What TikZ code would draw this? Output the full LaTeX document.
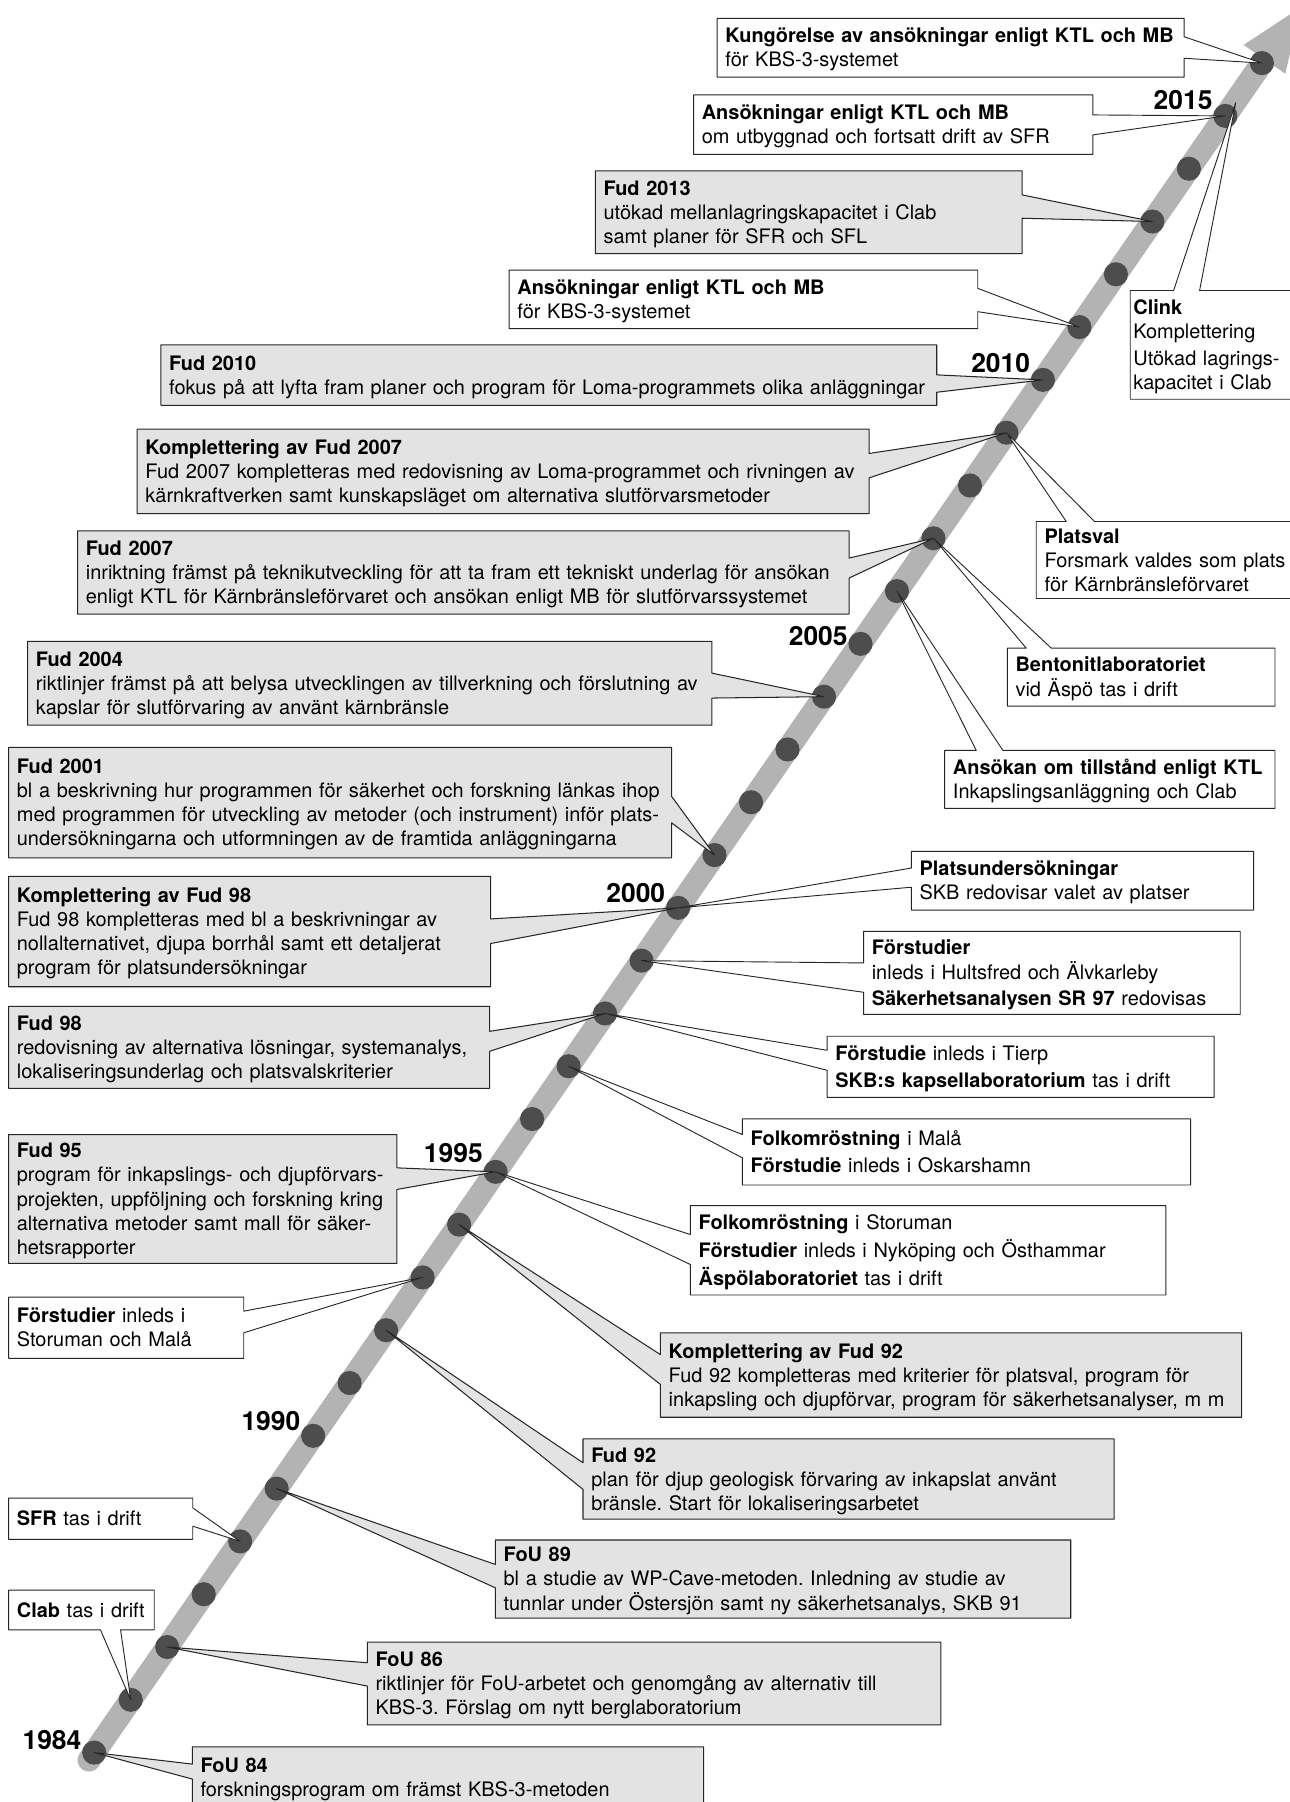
\documentclass[tikz,border=0pt]{standalone}
\usepackage{fontspec}
\setmainfont{TeX Gyre Heros}
\usetikzlibrary{calc,arrows.meta}

\definecolor{bandgray}{HTML}{B3B3B3}
\definecolor{dotgray}{HTML}{4D4D4D}
\definecolor{proggray}{HTML}{E3E3E3}

\pgfdeclarelayer{bandlayer}
\pgfdeclarelayer{shapelayer}
\pgfsetlayers{bandlayer,shapelayer,main}

\newcommand\boxfont{\fontsize{17.35}{21}\selectfont\frenchspacing}
\newcommand\tx[1]{\raisebox{-2pt}[\height][\depth]{\begin{tabular}{@{}l@{}}#1\end{tabular}}}

% callout outlines: box node, style, first offset, second offset, target
\newcommand\calE[5]{\draw[#2] (#1.north west) -- (#1.north east) -- ($(#1.north east)+(0,#3)$) -- (#5) -- ($(#1.north east)+(0,#4)$) -- (#1.south east) -- (#1.south west) -- cycle;}
\newcommand\calW[5]{\draw[#2] (#1.north west) -- (#1.north east) -- (#1.south east) -- (#1.south west) -- ($(#1.north west)+(0,#4)$) -- (#5) -- ($(#1.north west)+(0,#3)$) -- cycle;}
\newcommand\calN[5]{\draw[#2] (#1.north west) -- ($(#1.north west)+(#3,0)$) -- (#5) -- ($(#1.north west)+(#4,0)$) -- (#1.north east) -- (#1.south east) -- (#1.south west) -- cycle;}
\newcommand\calS[5]{\draw[#2] (#1.north west) -- (#1.north east) -- (#1.south east) -- ($(#1.south west)+(#4,0)$) -- (#5) -- ($(#1.south west)+(#3,0)$) -- (#1.south west) -- cycle;}

\tikzset{
  txt/.style={anchor=north west, inner xsep=7pt, inner ysep=0pt, align=left, font=\boxfont},
  prog/.style={fill=proggray, draw=black!85, line width=0.9pt, line join=round},
  evt/.style={fill=white, draw=black!85, line width=0.8pt, line join=round},
  yr/.style={font=\fontsize{23}{27}\selectfont\bfseries, inner sep=0pt, anchor=base east},
  band/.style={line width=20pt, draw=bandgray, line cap=round, -{Triangle[width=39pt,length=58pt]}}
}

\begin{document}
\begin{tikzpicture}[x=1pt,y=1pt,yscale=-1]
\useasboundingbox (0,0) rectangle (1122,1568);

% one dot per year
\foreach \k in {0,...,32}{
  \pgfmathtruncatemacro{\yr}{1984+\k}
  \coordinate (d\yr) at ({82+31.75*\k},{1525-45.94*\k});
}
\coordinate (bandstart) at ($(d1984)!-8pt!(d2016)$);
\coordinate (bandtip) at ($(d2016)!-62pt!(d1984)$);
\coordinate (clinktip) at ($(d2015)+(9,-11.5)$);

\begin{pgfonlayer}{bandlayer}
\draw[band] (bandstart) -- (bandtip);
\foreach \k in {1984,...,2016} \fill[dotgray] (d\k) circle (10.5);
\end{pgfonlayer}

% years
\foreach \yr/\dy in {1984/-3,1990/-5,1995/-8,2000/-5,2005/1,2010/-6,2015/-6}
  \node[yr] (l\yr) at ($(d\yr)+(-11,\dy)$) {\yr};

% boxes
\node[txt, text width=392pt, minimum height=50.7pt] (kung) at (624,16)
  {\tx{\textbf{Kungörelse av ansökningar enligt KTL och MB}\\för KBS-3-systemet}};
\node[txt, text width=333pt, minimum height=51.4pt] (sfr15) at (603.5,82.6)
  {\tx{\textbf{Ansökningar enligt KTL och MB}\\om utbyggnad och fortsatt drift av SFR}};
\node[txt, text width=357pt, minimum height=71.6pt] (fud13) at (518,148.7)
  {\tx{\textbf{Fud 2013}\\utökad mellanlagringskapacitet i Clab\\samt planer för SFR och SFL}};
\node[txt, text width=393.4pt, minimum height=50.6pt] (ans11) at (443,235)
  {\tx{\textbf{Ansökningar enligt KTL och MB}\\för KBS-3-systemet}};
\node[txt, inner xsep=2.5pt, text width=155pt, minimum height=94.2pt] (clink) at (983.5,252.8)
  {\tx{\textbf{Clink}\\Komplettering\\[3pt]Utökad lagrings-\\kapacitet i Clab}};
\node[txt, text width=660.7pt, minimum height=52.3pt] (fud10) at (140,300)
  {\tx{\textbf{Fud 2010}\\fokus på att lyfta fram planer och program för Loma-programmets olika anläggningar}};
\node[txt, text width=622.4pt, minimum height=73.1pt] (kfud07) at (119.4,373.4)
  {\tx{\textbf{Komplettering av Fud 2007}\\Fud 2007 kompletteras med redovisning av Loma-programmet och rivningen av\\kärnkraftverken samt kunskapsläget om alternativa slutförvarsmetoder}};
\node[txt, text width=219.3pt, minimum height=66.6pt] (platsval) at (901.7,453.8)
  {\tx{\textbf{Platsval}\\Forsmark valdes som plats\\för Kärnbränsleförvaret}};
\node[txt, text width=656.9pt, minimum height=72.1pt] (fud07) at (67.5,461.9)
  {\tx{\textbf{Fud 2007}\\inriktning främst på teknikutveckling för att ta fram ett tekniskt underlag för ansökan\\enligt KTL för Kärnbränsleförvaret och ansökan enligt MB för slutförvarssystemet}};
\node[txt, text width=218.5pt, minimum height=50pt] (bento) at (876.5,564)
  {\tx{\textbf{Bentonitlaboratoriet}\\vid Äspö tas i drift}};
\node[txt, text width=273pt, minimum height=50pt] (ans06) at (822,653)
  {\tx{\textbf{Ansökan om tillstånd enligt KTL}\\Inkapslingsanläggning och Clab}};
\node[txt, text width=581pt, minimum height=72.6pt] (fud04) at (24,558)
  {\tx{\textbf{Fud 2004}\\riktlinjer främst på att belysa utvecklingen av tillverkning och förslutning av\\kapslar för slutförvaring av använt kärnbränsle}};
\node[txt, text width=562.5pt, minimum height=95.7pt] (fud01) at (7.5,650.3)
  {\tx{\textbf{Fud 2001}\\bl a beskrivning hur programmen för säkerhet och forskning länkas ihop\\med programmen för utveckling av metoder (och instrument) inför plats-\\undersökningarna och utformningen av de framtida anläggningarna}};
\node[txt, text width=405pt, minimum height=95.7pt] (kfud98) at (7.5,762.5)
  {\tx{\textbf{Komplettering av Fud 98}\\Fud 98 kompletteras med bl a beskrivningar av\\nollalternativet, djupa borrhål samt ett detaljerat\\program för platsundersökningar}};
\node[txt, text width=283.4pt, minimum height=50.7pt] (platsund) at (793,740.8)
  {\tx{\textbf{Platsundersökningar}\\SKB redovisar valet av platser}};
\node[txt, text width=313.4pt, minimum height=71.9pt] (forst99) at (751.4,810.4)
  {\tx{\textbf{Förstudier}\\inleds i Hultsfred och Älvkarleby\\[2pt]\textbf{Säkerhetsanalysen SR 97} redovisas}};
\node[txt, text width=404.1pt, minimum height=71pt] (fud98) at (7.5,875.6)
  {\tx{\textbf{Fud 98}\\redovisning av alternativa lösningar, systemanalys,\\lokaliseringsunderlag och platsvalskriterier}};
\node[txt, text width=322.3pt, minimum height=52.8pt] (tierp) at (719.7,901.7)
  {\tx{\textbf{Förstudie} inleds i Tierp\\[2pt]\textbf{SKB:s kapsellaboratorium} tas i drift}};
\node[txt, text width=375.6pt, minimum height=57.1pt] (mala) at (646,973.6)
  {\tx{\textbf{Folkomröstning} i Malå\\[2pt]\textbf{Förstudie} inleds i Oskarshamn}};
\node[txt, text width=323.5pt, minimum height=111.7pt] (fud95) at (7.5,987.2)
  {\tx{\textbf{Fud 95}\\program för inkapslings- och djupförvars-\\projekten, uppföljning och forskning kring\\alternativa metoder samt mall för säker-\\hetsrapporter}};
\node[txt, text width=399.3pt, minimum height=77.4pt] (storu) at (600.7,1049)
  {\tx{\textbf{Folkomröstning} i Storuman\\[2pt]\textbf{Förstudier} inleds i Nyköping och Östhammar\\[2pt]\textbf{Äspölaboratoriet} tas i drift}};
\node[txt, text width=491.3pt, minimum height=73.1pt] (kfud92) at (574.7,1159.7)
  {\tx{\textbf{Komplettering av Fud 92}\\Fud 92 kompletteras med kriterier för platsval, program för\\inkapsling och djupförvar, program för säkerhetsanalyser, m m}};
\node[txt, text width=190.2pt, minimum height=52.8pt] (forstsm) at (7.5,1128.7)
  {\tx{\textbf{Förstudier} inleds i\\Storuman och Malå}};
\node[txt, text width=447.7pt, minimum height=69.5pt] (fud92) at (507.3,1252)
  {\tx{\textbf{Fud 92}\\plan för djup geologisk förvaring av inkapslat använt\\bränsle. Start för lokaliseringsarbetet}};
\node[txt, text width=145.8pt, minimum height=35.5pt] (sfr88) at (7.5,1303.5)
  {\tx{\textbf{SFR} tas i drift}};
\node[txt, text width=486.3pt, minimum height=67.6pt] (fou89) at (431,1340)
  {\tx{\textbf{FoU 89}\\bl a studie av WP-Cave-metoden. Inledning av studie av\\tunnlar under Östersjön samt ny säkerhetsanalys, SKB 91}};
\node[txt, text width=112.3pt, minimum height=34.2pt] (clab) at (7.5,1383.6)
  {\tx{\textbf{Clab} tas i drift}};
\node[txt, text width=484.6pt, minimum height=71.6pt] (fou86) at (319.6,1428.8)
  {\tx{\textbf{FoU 86}\\riktlinjer för FoU-arbetet och genomgång av alternativ till\\KBS-3. Förslag om nytt berglaboratorium}};
\node[txt, text width=430.5pt, minimum height=52pt] (fou84) at (167.3,1520)
  {\tx{\textbf{FoU 84}\\forskningsprogram om främst KBS-3-metoden}};

% callouts to the dots
\begin{pgfonlayer}{shapelayer}
\calE{kung}{evt}{16}{34.7}{d2016}
\calE{sfr15}{evt}{17.4}{34.8}{d2015}
\calE{fud13}{prog}{20.9}{41.2}{d2013}
\calE{ans11}{evt}{15.9}{36.2}{d2011}
\calN{clink}{evt}{37.7}{60.3}{clinktip}
\calE{fud10}{prog}{26.2}{41.3}{d2010}
\calE{kfud07}{prog}{21.2}{42.4}{d2009}
\calN{platsval}{evt}{26.1}{50.7}{d2009}
\calE{fud07}{prog}{23.7}{41.1}{d2007}
\calN{bento}{evt}{16.5}{38.3}{d2007}
\calN{ans06}{evt}{27.5}{50.7}{d2006}
\calE{fud04}{prog}{27.7}{49.4}{d2004}
\calE{fud01}{prog}{42.7}{65.7}{d2001}
\calE{kfud98}{prog}{37.1}{58.5}{d2000}
\calW{platsund}{evt}{14.5}{31.2}{d2000}
\calW{forst99}{evt}{27.5}{53}{d1999}
\calE{fud98}{prog}{21.8}{39.2}{d1998}
\calW{tierp}{evt}{12.2}{29.6}{d1998}
\calW{mala}{evt}{13.6}{33.9}{d1997}
\calE{fud95}{prog}{29}{47.8}{d1995}
\calW{storu}{evt}{25.2}{51.3}{d1995}
\calW{kfud92}{prog}{19}{45}{d1994}
\calE{forstsm}{evt}{12.2}{31}{d1993}
\calW{fud92}{prog}{20.8}{44}{d1992}
\calE{sfr88}{evt}{8.5}{24.5}{d1988}
\calW{fou89}{prog}{21.3}{41.6}{d1989}
\calS{clab}{evt}{79.9}{97.4}{d1985}
\calW{fou86}{prog}{18}{38.3}{d1986}
\calW{fou84}{prog}{15}{28}{d1984}
\end{pgfonlayer}
\end{tikzpicture}
\end{document}
